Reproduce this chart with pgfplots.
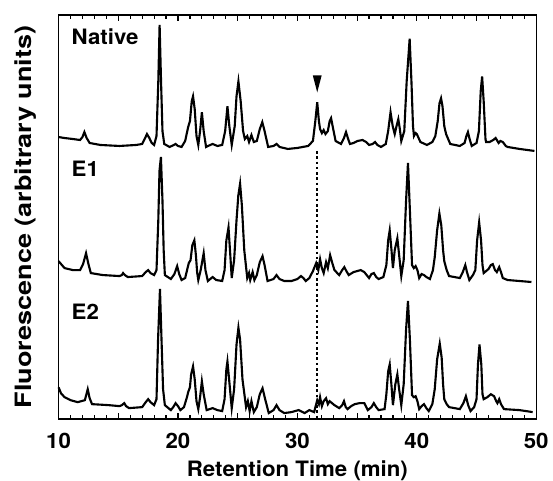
\documentclass[border=0pt]{standalone}
\usepackage{pgfplots}
\pgfplotsset{compat=1.18}
\usepackage{fontspec}
\setmainfont{TeX Gyre Heros}[FakeStretch=1.05]
\newfontfamily\widefont{TeX Gyre Heros}[FakeStretch=1.2]

% one pixel of the reference = 0.75pt
\begin{document}
\begin{tikzpicture}
  \begin{axis}[
      scale only axis,
      width=360.75pt, height=305.25pt,
      xmin=10, xmax=50, ymin=0, ymax=407,
      xtick={10,15,...,50},
      xticklabels={10,,20,,30,,40,,50},
      minor x tick num=4,
      ytick=\empty,
      tick align=inside,
      major tick length=4.5pt, minor tick length=3pt,
      every tick/.style={black, line width=0.9pt},
      axis line style={line width=1.1pt},
      /pgf/number format/assume math mode=true,
      xticklabel style={font=\fontsize{16}{18}\selectfont\bfseries, yshift=-7.5pt},
      xlabel={Retention Time (min)},
      ylabel={Fluorescence (arbitrary units)},
      xlabel style={font=\fontsize{16}{18}\selectfont\bfseries,
        at={(axis description cs:0.5,0)}, anchor=north, inner sep=0pt, yshift=-31pt},
      ylabel style={font=\widefont\fontsize{17}{19}\selectfont\bfseries,
        at={(axis description cs:-0.0686,0.5)}, anchor=center},
      clip=false,
    ]
    % Native
    \addplot[black, line width=1.6pt] coordinates {
      (10.0,284)(10.5,283)(11.2,282)(11.8,281)(12.0,284)(12.16,289)(12.35,283)(12.6,278)
      (13.5,276)(15.1,275)(16.5,276)(17.0,277)(17.25,283)(17.4,287)(17.6,283)(17.8,278)
      (18.0,276)(18.2,285)(18.35,340)(18.46,397)(18.58,340)(18.7,290)(18.85,277)(19.3,274)
      (19.65,276)(19.8,277)(20.0,275)(20.3,274)(20.6,280)(20.85,294)(21.0,300)(21.15,320)
      (21.26,325)(21.4,312)(21.55,285)(21.7,276)(21.85,290)(22.0,309)(22.15,290)(22.35,274)
      (22.7,276)(22.9,277)(23.3,275)(23.7,276)(23.95,290)(24.14,315)(24.3,295)(24.5,276)
      (24.75,295)(24.9,325)(25.06,340)(25.25,320)(25.45,290)(25.6,282)(25.8,285)(25.95,279)
      (26.15,286)(26.35,279)(26.6,280)(26.85,292)(27.06,299)(27.25,290)(27.55,274)(28.0,275)
      (28.25,277)(28.5,274)(29.2,272)(30.0,273)(30.9,275)(31.3,280)(31.5,300)(31.66,319)
      (31.8,300)(31.9,292)(32.05,288)(32.2,291)(32.35,287)(32.55,290)(32.7,300)(32.82,303)
      (32.95,295)(33.2,280)(33.65,277)(33.9,283)(34.07,289)(34.25,282)(34.4,277)(34.7,278)
      (35.04,280)(35.45,281)(35.75,279)(36.0,276)(36.3,277)(36.5,279)(36.7,276)(37.0,274)
      (37.4,277)(37.6,290)(37.8,309)(37.98,295)(38.15,287)(38.3,295)(38.45,302)(38.58,292)
      (38.7,280)(38.95,290)(39.15,340)(39.4,383)(39.55,340)(39.68,295)(39.76,285)(39.9,288)
      (40.0,287)(40.3,279)(40.85,276)(41.3,279)(41.55,285)(41.75,300)(41.9,318)(42.03,323)
      (42.15,315)(42.3,295)(42.45,287)(42.8,277)(43.6,275)(44.0,278)(44.15,285)(44.28,289)
      (44.42,282)(44.6,275)(45.0,278)(45.2,290)(45.35,330)(45.47,345)(45.6,320)(45.75,282)
      (45.8,279)(46.1,279)(46.4,281)(46.6,283)(46.85,278)(47.0,280)(47.2,279)(47.45,275)
      (47.6,274)(48.6,272)(49.85,270)
    };
    % E1
    \addplot[black, line width=1.6pt] coordinates {
      (10.0,159)(10.5,152)(11.2,150)(11.8,150)(12.05,156)(12.3,167)(12.5,156)(12.7,147)
      (13.7,145)(15.1,144)(15.3,145)(15.4,147)(15.55,145)(15.8,143)(17.0,144)(17.3,148)
      (17.5,150)(17.7,147)(18.0,145)(18.2,150)(18.35,200)(18.45,250)(18.57,264)(18.7,220)
      (18.8,170)(18.9,145)(19.4,141)(19.7,146)(19.93,154)(20.1,146)(20.3,140)(20.6,142)
      (20.8,152)(20.9,157)(21.05,160)(21.2,175)(21.37,180)(21.5,165)(21.6,148)(21.7,140)
      (21.9,150)(22.15,167)(22.3,150)(22.5,139)(22.9,143)(23.2,140)(23.7,139)(23.9,150)
      (24.05,180)(24.23,193)(24.38,165)(24.5,142)(24.7,160)(24.9,200)(25.05,225)(25.2,237)
      (25.35,215)(25.55,170)(25.8,142)(25.95,147)(26.05,140)(26.25,148)(26.4,140)(26.6,145)
      (26.85,158)(27.08,164)(27.25,155)(27.5,139)(28.0,141)(28.25,145)(28.5,141)(28.9,139)
      (29.5,139)(30.0,141)(30.3,144)(30.5,142)(30.7,139)(31.0,142)(31.3,149)(31.57,157)
      (31.75,150)(31.9,161)(32.05,152)(32.2,147)(32.4,158)(32.55,152)(32.74,165)(32.9,158)
      (33.1,150)(33.5,145)(33.75,150)(33.93,153)(34.1,149)(34.3,145)(34.7,148)(35.0,149)
      (35.3,150)(35.6,148)(36.0,142)(36.2,146)(36.4,147)(36.6,143)(36.8,141)(37.2,143)
      (37.45,155)(37.6,180)(37.73,190)(37.88,170)(38.0,152)(38.15,170)(38.37,182)(38.52,165)
      (38.7,144)(38.9,160)(39.1,220)(39.26,258)(39.42,210)(39.6,155)(39.75,152)(39.9,154)
      (40.05,150)(40.2,142)(40.4,146)(40.6,145)(40.8,143)(41.1,141)(41.35,150)(41.5,163)
      (41.7,190)(41.89,207)(42.05,195)(42.2,170)(42.3,159)(42.5,150)(42.7,144)(43.6,142)
      (43.85,148)(44.06,155)(44.2,148)(44.4,140)(44.7,145)(44.9,150)(45.05,180)(45.22,198)
      (45.38,180)(45.5,155)(45.6,147)(45.8,149)(46.0,151)(46.2,155)(46.36,156)(46.55,150)
      (46.7,148)(46.9,153)(47.05,148)(47.2,142)(47.6,140)(48.6,139)(49.6,138)
    };
    % E2
    \addplot[black, line width=1.6pt] coordinates {
      (10.0,32)(10.2,26)(10.5,22)(11.0,19)(11.6,17)(12.2,19)(12.44,30)(12.6,21)(12.8,15)
      (14.2,14)(15.1,13)(15.3,14)(15.5,16)(15.65,13)(15.9,11)(17.0,12)(17.3,17)(17.5,20)
      (17.7,17)(18.0,14)(18.2,20)(18.33,80)(18.49,131)(18.62,80)(18.75,30)(18.9,14)(19.4,9)
      (19.6,12)(19.8,16)(20.0,13)(20.2,9)(20.5,12)(20.75,22)(20.85,27)(21.0,32)(21.1,45)
      (21.26,53)(21.4,40)(21.55,18)(21.7,10)(21.85,22)(22.0,38)(22.15,25)(22.4,9)(22.9,11)
      (23.3,9)(23.7,8)(23.9,20)(24.05,50)(24.14,58)(24.28,40)(24.5,11)(24.7,30)(24.9,75)
      (25.06,92)(25.2,80)(25.4,40)(25.7,12)(25.85,18)(26.0,8)(26.15,18)(26.35,7)(26.6,12)
      (26.85,25)(27.08,31)(27.3,20)(27.6,6)(28.0,9)(28.25,14)(28.5,9)(28.9,6)(29.5,7)
      (30.1,9)(30.6,6)(31.0,9)(31.4,7)(31.66,19)(31.8,15)(31.9,22)(32.05,13)(32.2,18)
      (32.4,21)(32.55,15)(32.7,18)(32.9,16)(33.1,14)(33.5,11)(33.75,14)(33.9,18)(34.05,12)
      (34.2,10)(34.5,13)(34.8,15)(35.2,16)(35.6,16)(35.9,9)(36.2,12)(36.4,16)(36.6,12)
      (36.8,9)(37.3,10)(37.45,25)(37.6,48)(37.73,55)(37.87,35)(38.0,14)(38.2,35)(38.37,45)
      (38.52,30)(38.7,14)(38.9,35)(39.1,90)(39.26,119)(39.42,80)(39.6,24)(39.75,22)(39.9,23)
      (40.05,18)(40.2,10)(40.4,13)(40.6,15)(40.8,11)(41.0,8)(41.3,15)(41.5,30)(41.7,60)
      (41.92,76)(42.08,62)(42.2,35)(42.3,20)(42.5,15)(42.7,12)(43.6,10)(43.9,16)(44.11,23)
      (44.3,14)(44.5,8)(44.8,12)(45.0,20)(45.12,55)(45.25,75)(45.4,55)(45.5,25)(45.6,20)
      (45.9,22)(46.2,25)(46.47,23)(46.65,18)(46.75,16)(46.9,20)(47.05,15)(47.3,10)(48.6,9)
      (49.7,7)
    };
    % marker of the peak at 31.6 min
    \addplot[black, fill=black, draw=none] coordinates {(31.29,346)(32.03,346)(31.66,329)} -- cycle;
    \addplot[black, line width=1.5pt, dash pattern=on 2pt off 2pt] coordinates {(31.6,270)(31.6,0)};
    \node[anchor=base west, inner sep=0pt, font=\fontsize{16}{18}\selectfont\bfseries] at (axis cs:11.08,377) {Native};
    \node[anchor=base west, inner sep=0pt, font=\fontsize{16}{18}\selectfont\bfseries] at (axis cs:11.08,244) {E1};
    \node[anchor=base west, inner sep=0pt, font=\fontsize{16}{18}\selectfont\bfseries] at (axis cs:11.08,100) {E2};
  \end{axis}
  \path ([shift={(-44.25pt,-46.5pt)}]current axis.south west)
    rectangle ([shift={(9.75pt,11.25pt)}]current axis.north east);
\end{tikzpicture}
\end{document}
